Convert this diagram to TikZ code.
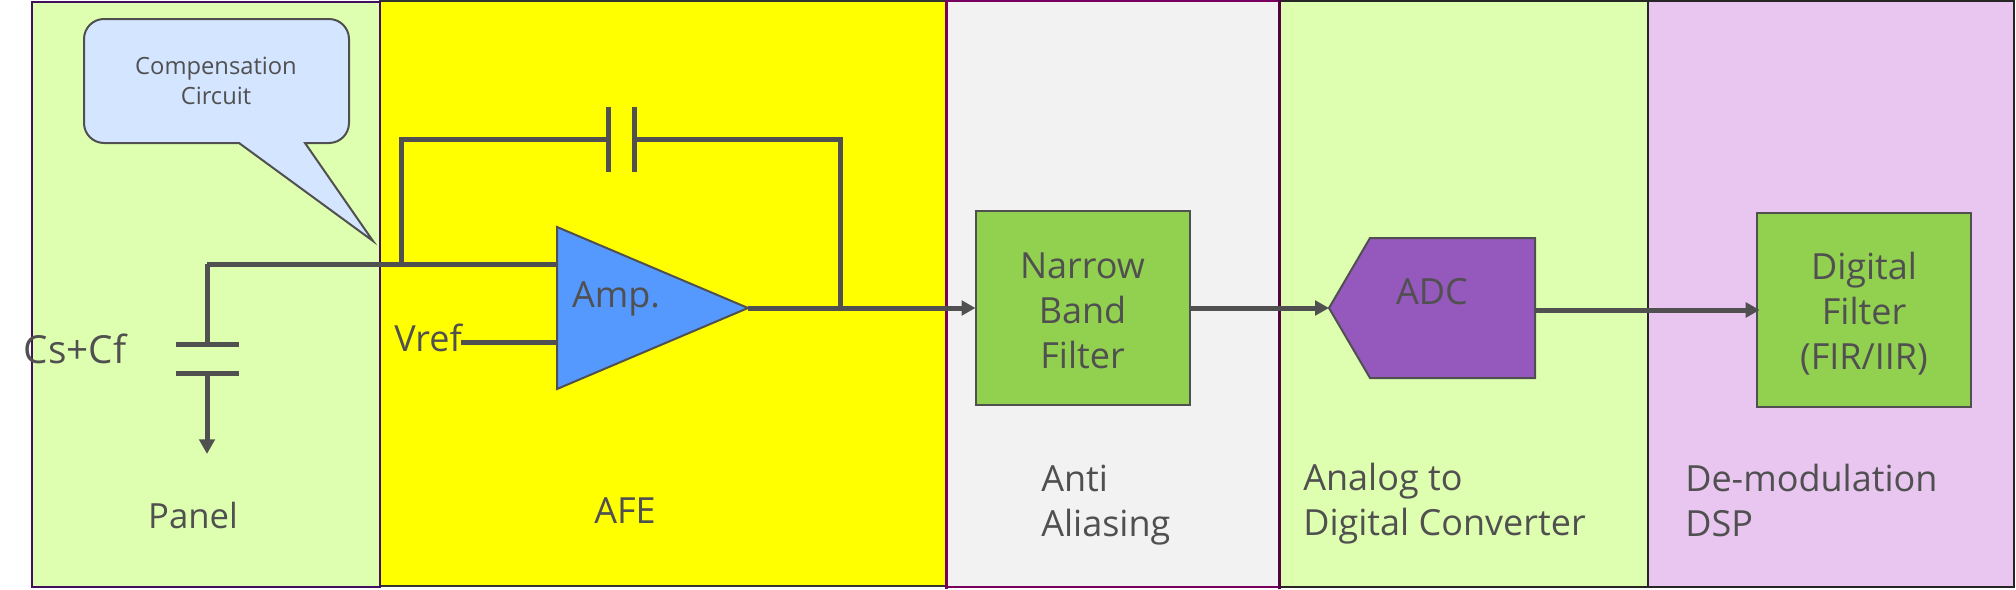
\documentclass[tikz,border=0pt]{standalone}
\usepackage{fontspec}
\setmainfont{Open Sans}
\usetikzlibrary{arrows.meta}
\definecolor{wiregray}{HTML}{505050}
\definecolor{panelgreen}{HTML}{DFFFB0}
\definecolor{panelpink}{HTML}{E8C6F0}
\definecolor{panelgray}{HTML}{F2F2F2}
\definecolor{panelyellow}{HTML}{FFFF00}
\definecolor{edgeviolet}{HTML}{40105F}
\definecolor{edgeplum}{HTML}{7A0060}
\definecolor{calloutblue}{HTML}{D3E5FF}
\definecolor{ampblue}{HTML}{5599FF}
\definecolor{filtergreen}{HTML}{92D050}
\definecolor{adcpurple}{HTML}{9558BC}
\tikzset{
  wire/.style={draw=wiregray, line width=3.75pt},
  sig/.style={wire, -{Triangle[length=10.5pt,width=11pt]}},
  outline/.style={draw=wiregray, line width=1.5pt},
  lbl/.style={text=wiregray, inner sep=0pt, font=\fontsize{27}{33.75}\selectfont},
  filterbox/.style={outline, fill=filtergreen, outer sep=0pt, inner sep=0pt}
}
\begin{document}
\begin{tikzpicture}[x=0.75pt, y=-0.75pt]
    \useasboundingbox (0,0) rectangle (2016,589);

    % Coordinates
    \coordinate (AmpT) at (557, 227);
    \coordinate (AmpB) at (557, 389);
    \coordinate (AmpO) at (748, 308);
    \coordinate (AmpP) at (557, 264);
    \coordinate (AmpN) at (557, 342);
    \coordinate (VrefO) at (461, 342);
    \coordinate (Tap) at (401, 264);
    \coordinate (Corner) at (207, 264);
    \coordinate (FbL) at (401, 139);
    \coordinate (FbR) at (840, 139);
    \coordinate (FbO) at (840, 308);
    \coordinate (CfL) at (608, 139);
    \coordinate (CfR) at (634, 139);
    \coordinate (CsT) at (207, 344);
    \coordinate (CsB) at (207, 373);
    \coordinate (Gnd) at (207, 454);
    \coordinate (AdcTip) at (1329, 308);
    \coordinate (AdcT) at (1370, 238);
    \coordinate (AdcTR) at (1535, 238);
    \coordinate (AdcBR) at (1535, 378);
    \coordinate (AdcB) at (1370, 378);
    \coordinate (AdcO) at (1535, 310);

    % Background Panels
    \draw[fill=panelyellow, draw=black!80, line width=1.5pt] (380, 1) rectangle (946, 586);
    \draw[fill=panelgreen, draw=edgeviolet, line width=1.5pt] (32, 2) rectangle (380, 587);
    \draw[fill=panelgray, draw=edgeplum, line width=1.5pt] (947, 1) rectangle (1279, 587);
    \draw[fill=panelgreen, draw=black!85, line width=1.5pt] (1279, 1) rectangle (1648, 587);
    \draw[fill=panelpink, draw=black!85, line width=1.5pt] (1648, 1) rectangle (2014, 587);
    \draw[edgeplum, line width=2.25pt] (946, 0) -- (946, 589);
    \draw[edgeplum!70!black, line width=2.25pt] (1279, 0) -- (1279, 589);

    % Compensation Callout
    \draw[outline, fill=calloutblue] (104, 19) -- (329, 19)
      arc[start angle=-90, end angle=0, radius=20] -- (349, 123)
      arc[start angle=0, end angle=90, radius=20] -- (305, 143) -- (373, 241) -- (239, 143)
      -- (104, 143) arc[start angle=90, end angle=180, radius=20] -- (84, 39)
      arc[start angle=180, end angle=270, radius=20] -- cycle;
    \node[lbl, align=center, font=\fontsize{17.8}{22.5}\selectfont] (comp) at (216, 81) {Compensation\\Circuit};

    % Feedback and Input Wires
    \draw[wire] (Corner) -- (AmpP);
    \draw[wire] (Tap) -- (FbL) -- (CfL);
    \draw[wire] (CfR) -- (FbR) -- (FbO);
    \draw[wire] (608, 107) -- (608, 172);
    \draw[wire] (634, 107) -- (634, 172);
    \draw[wire] (VrefO) -- (AmpN);

    % Panel Capacitor
    \draw[wire] (Corner) -- (CsT);
    \draw[wire] (176, 344) -- (239, 344);
    \draw[wire] (176, 373) -- (239, 373);
    \draw[sig, -{Triangle[length=11pt,width=11.5pt]}] (CsB) -- (Gnd);

    % Amplifier
    \draw[outline, fill=ampblue] (AmpT) -- (AmpO) -- (AmpB) -- cycle;

    % Filter Blocks
    \node[filterbox, minimum width=160.5pt, minimum height=146pt] (nbf) at (1082.5, 308) {};
    \node[lbl, align=center] (nbftxt) at (1082.5, 311) {Narrow\\Band\\Filter};
    \node[filterbox, minimum width=160.5pt, minimum height=146pt] (dgf) at (1864, 310) {};
    \node[lbl, align=center] (dgftxt) at (1864, 314) {Digital\\Filter\\(FIR/IIR)};

    % ADC Block
    \draw[outline, fill=adcpurple] (AdcTip) -- (AdcT) -- (AdcTR) -- (AdcBR) -- (AdcB) -- cycle;

    % Signal Path
    \draw[sig] (AmpO) -- (nbf.west);
    \draw[sig] (nbf.east |- AdcTip) -- (AdcTip);
    \draw[sig, shorten >=-2pt] (AdcO) -- (dgf.west);

    % Labels
    \node[lbl, font=\fontsize{29}{33.75}\selectfont] (cscf) at (75, 349) {Cs+Cf};
    \node[lbl, font=\fontsize{26}{33.75}\selectfont] (panel) at (193, 515) {Panel};
    \node[lbl] (vref) at (428, 338) {Vref};
    \node[lbl] (amp) at (616, 299) {Amp.};
    \node[lbl] (afe) at (625, 511) {AFE};
    \node[lbl] (adc) at (1432, 292) {ADC};
    \node[lbl, align=left, anchor=west] (anti) at (1041, 505) {Anti\\Aliasing};
    \node[lbl, align=left, anchor=west] (conv) at (1303, 504) {Analog to\\Digital Converter};
    \node[lbl, align=left, anchor=west] (dsp) at (1685, 500) {De-modulation\\DSP};

\end{tikzpicture}
\end{document}
